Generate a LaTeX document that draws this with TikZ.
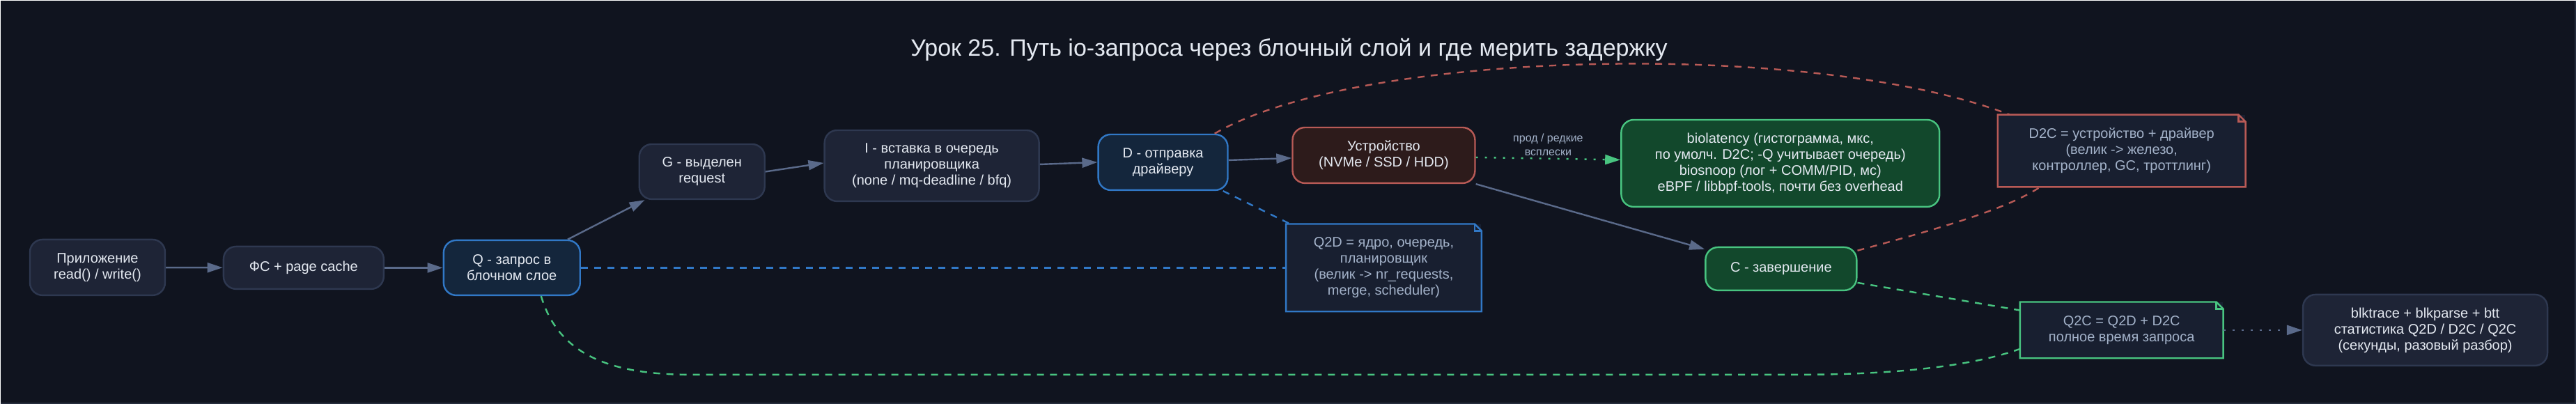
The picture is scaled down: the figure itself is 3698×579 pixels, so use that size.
\documentclass[tikz,border=0pt]{standalone}
\usepackage{fontspec}
\setmainfont{Liberation Sans}
\usepackage{tikz}
\usetikzlibrary{arrows.meta}

\definecolor{bgcol}{HTML}{10141F}
\definecolor{framecol}{HTML}{262D3D}
\definecolor{boxfill}{HTML}{1E2436}
\definecolor{boxline}{HTML}{2E3850}
\definecolor{bluefill}{HTML}{14263C}
\definecolor{blueline}{HTML}{3178C6}
\definecolor{redfill}{HTML}{2D1B1B}
\definecolor{redline}{HTML}{B85A56}
\definecolor{greenfill}{HTML}{12482C}
\definecolor{greenline}{HTML}{48C480}
\definecolor{notefill}{HTML}{181F30}
\definecolor{notetext}{HTML}{A3B2C9}
\definecolor{nodetext}{HTML}{E4E9F1}
\definecolor{edgecol}{HTML}{5A6A8A}

\tikzstyle{box} = [draw=boxline, fill=boxfill, text=nodetext, line width=1.2pt,
  rounded corners=9pt, align=center, inner sep=0pt,
  font=\fontsize{10}{11.5}\selectfont]
\tikzstyle{bluebox} = [box, draw=blueline, fill=bluefill]
\tikzstyle{redbox} = [box, draw=redline, fill=redfill]
\tikzstyle{greenbox} = [box, draw=greenline, fill=greenfill]
\tikzstyle{notebox} = [fill=notefill, text=notetext, align=center, inner sep=0pt,
  font=\fontsize{10}{11.5}\selectfont]
\tikzstyle{arrow} = [line width=1.2pt, -{Triangle[length=11pt,width=7pt]}]
\tikzset{
  dashline/.style={line width=1.2pt, dash pattern=on 5pt off 4.5pt},
  dotline/.style={line width=1.2pt, dash pattern=on 1.5pt off 5pt},
}

% outline of a note with folded corner
\newcommand{\notefold}[2]{%
  \draw[#2, line width=1.2pt, line join=miter]
    (#1.north west) -- ([xshift=-5pt]#1.north east) -- ([yshift=-5pt]#1.north east)
    -- (#1.south east) -- (#1.south west) -- cycle;
  \draw[#2, line width=1.2pt]
    ([xshift=-5pt]#1.north east) -- ([xshift=-5pt,yshift=-5pt]#1.north east)
    -- ([yshift=-5pt]#1.north east);}

\begin{document}
\begin{tikzpicture}[x=0.5pt, y=-0.5pt]
  % background
  \fill[bgcol] (0,0) rectangle (3698,579);
  \draw[framecol, line width=1pt] (0,578) -- (3697,578) -- (3697,0);
  \useasboundingbox (0,0) rectangle (3698,579);

  \node[text=nodetext, font=\fontsize{17}{20}\selectfont] (title) at (1850,70)
    {Урок 25. Путь io-запроса через блочный слой и где мерить задержку};

  % main path
  \node[box, minimum width=97pt, minimum height=40pt] (app) at (139,383)
    {Приложение\\read() / write()};
  \node[box, minimum width=115pt, minimum height=30.5pt] (fs) at (435,383.5)
    {ФС + page cache};
  \node[bluebox, minimum width=98pt, minimum height=39.5pt] (q) at (734,383.5)
    {Q - запрос в\\блочном слое};
  \node[box, minimum width=90pt, minimum height=39.5pt] (g) at (1007,245.5)
    {G - выделен\\request};
  \node[box, minimum width=154pt, minimum height=51pt] (ins) at (1337,237)
    {I - вставка в очередь\\планировщика\\(none / mq-deadline / bfq)};
  \node[bluebox, minimum width=93pt, minimum height=40pt] (d) at (1669,232)
    {D - отправка\\драйверу};
  \node[redbox, minimum width=131pt, minimum height=40pt] (dev) at (1986,222)
    {Устройство\\(NVMe / SSD / HDD)};
  \node[greenbox, minimum width=228.5pt, minimum height=62.5pt] (bio) at (2555.5,233.5)
    {biolatency (гистограмма, мкс,\\по умолч. D2C; -Q учитывает очередь)\\biosnoop (лог + COMM/PID, мс)\\eBPF / libbpf-tools, почти без overhead};
  \node[greenbox, minimum width=108.5pt, minimum height=31pt] (c) at (2556.5,385)
    {C - завершение};
  \node[box, minimum width=175.5pt, minimum height=51pt] (blk) at (3481.5,473)
    {blktrace + blkparse + btt\\статистика Q2D / D2C / Q2C\\(секунды, разовый разбор)};

  % notes
  \node[notebox, minimum width=140pt, minimum height=62.5pt] (qtd) at (1986,383.5)
    {Q2D = ядро, очередь,\\планировщик\\(велик -> nr\_requests,\\merge, scheduler)};
  \notefold{qtd}{blueline}
  \node[notebox, minimum width=177.5pt, minimum height=51.5pt] (dtc) at (3045.5,215.5)
    {D2C = устройство + драйвер\\(велик -> железо,\\контроллер, GC, троттлинг)};
  \notefold{dtc}{redline}
  \node[notebox, minimum width=145.5pt, minimum height=40pt] (qtc) at (3045.5,473)
    {Q2C = Q2D + D2C\\полное время запроса};
  \notefold{qtc}{greenline}

  % request path
  \draw[arrow, edgecol] (app) -- (fs);
  \draw[arrow, edgecol] (fs) -- (q);
  \draw[arrow, edgecol] ([xshift=-9.5pt]q.north east) -- ([xshift=4.5pt]g.south west);
  \draw[arrow, edgecol] (g.east) -- ([yshift=2pt]ins.west);
  \draw[arrow, edgecol] ([yshift=1pt]ins.east) -- (d.west);
  \draw[arrow, edgecol] ([yshift=1.5pt]d.east) -- ([yshift=-2pt]dev.west);
  \draw[arrow, edgecol] (dev.south east) -- ([yshift=-2pt]c.north west);

  % tools
  \draw[arrow, dotline, greenline] ([yshift=-1.5pt]dev.east) -- ([yshift=2.5pt]bio.west)
    node[midway, above=-2pt, text=notetext, align=center,
         font=\fontsize{8}{10}\selectfont] (lbl) {прод / редкие\\всплески};
  \draw[arrow, dotline, edgecol] (qtc) -- (blk);

  % where to measure
  \draw[dashline, blueline] (q.east) -- (qtd.west);
  \draw[dashline, blueline] ([xshift=-4pt]d.south east) -- ([xshift=3pt]qtd.north west);
  \draw[dashline, redline] ([xshift=-10pt]d.north east)
    .. controls (1950,70) and (2600,55) .. ([xshift=8.5pt]dtc.north west);
  \draw[dashline, redline] ([yshift=-3pt]c.north east)
    .. controls (2780,328) and (2880,300) .. ([xshift=30.5pt]dtc.south west);
  \draw[dashline, greenline] ([yshift=-10pt]c.east) -- ([yshift=-6pt]qtc.north west);
  \draw[dashline, greenline] ([xshift=21pt]q.south)
    .. controls (800,505) and (870,537) .. (990,537) -- (2580,537)
    .. controls (2720,537) and (2830,525) .. ([yshift=-13.5pt]qtc.west);
\end{tikzpicture}
\end{document}
